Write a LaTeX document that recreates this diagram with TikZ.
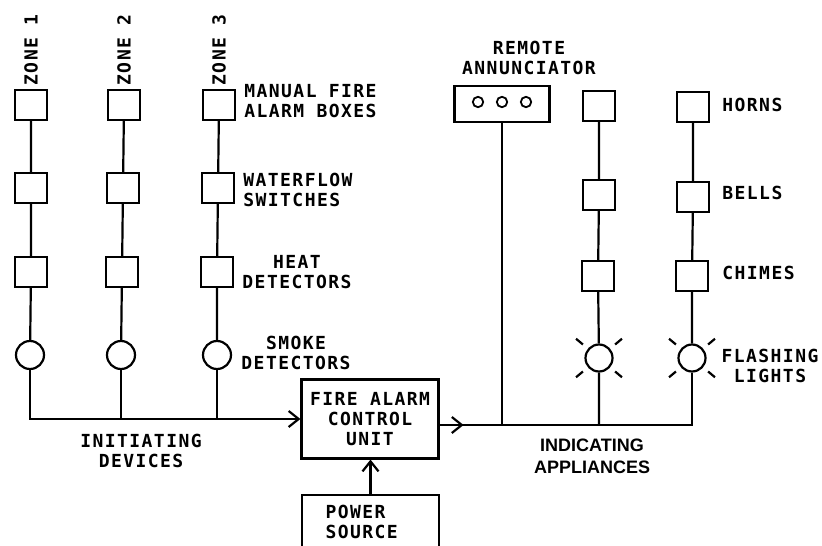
\documentclass[tikz,border=0pt]{standalone}
\usepackage{fontspec}
\usepackage{tikz}
\usetikzlibrary{arrows.meta,calc,positioning}
\newfontfamily\apfont{Liberation Sans}
\newfontfamily\plotfont[LetterSpace=8]{DejaVu Sans Mono}
\tikzset{
  wire/.style={line width=1.1pt},
  dev/.style={draw,wire,minimum width=16pt,minimum height=15pt,inner sep=0pt},
  det/.style={draw,wire,circle,minimum size=14pt,inner sep=0pt},
  lamp/.style={draw,wire,circle,minimum size=13.5pt,inner sep=0pt},
  lbl/.style={font=\plotfont\bfseries\fontsize{9}{10}\selectfont,align=left,inner sep=0pt},
}

\begin{document}
\begin{tikzpicture}[x=0.5pt,y=-0.5pt,>={Straight Barb[length=5pt,width=8pt]}]
\useasboundingbox (0,0) rectangle (822,545);
% indicating appliances label first
\node[font=\apfont\bfseries\fontsize{9}{11}\selectfont,align=center,inner sep=0pt] (lind) at (592,456) {INDICATING\\APPLIANCES};
% initiating devices, three zones
\node[dev] (m1) at (31,105) {};
\node[dev] (w1) at (31,188) {};
\node[dev] (h1) at (31,272) {};
\node[det] (s1) at (30,355) {};
\node[dev] (m2) at (124,105) {};
\node[dev] (w2) at (123,188) {};
\node[dev] (h2) at (122,272) {};
\node[det] (s2) at (121,355) {};
\node[dev] (m3) at (219,105) {};
\node[dev] (w3) at (218,188) {};
\node[dev] (h3) at (217,272) {};
\node[det] (s3) at (217,355) {};
\node[lbl,rotate=90,anchor=west] (zl1) at ([yshift=1.5pt]m1.north) {ZONE 1};
\node[lbl,rotate=90,anchor=west] (zl2) at ([yshift=1.5pt]m2.north) {ZONE 2};
\node[lbl,rotate=90,anchor=west] (zl3) at ([yshift=1.5pt]m3.north) {ZONE 3};
\node[lbl,anchor=west] (lmfa) at (244,101) {MANUAL FIRE\\ALARM BOXES};
\node[lbl,anchor=west] (lwf) at (243,190) {WATERFLOW\\SWITCHES};
\node[lbl,align=center] (lhd) at (297,272) {HEAT\\DETECTORS};
\node[lbl,align=center] (lsd) at (296,353) {SMOKE\\DETECTORS};
\node[lbl,align=center] (lini) at (141,451) {INITIATING\\DEVICES};
\draw[wire] (m1) -- (w1) -- (h1) -- (s1);
\draw[wire] (m2) -- (w2) -- (h2) -- (s2);
\draw[wire] (m3) -- (w3) -- (h3) -- (s3);
% control unit and power
\node[draw,wire,lbl,align=center,minimum width=68.5pt,minimum height=39.5pt] (fac) at (370,419) {FIRE ALARM\\CONTROL\\UNIT};
\node[draw,wire,lbl,minimum width=68.5pt,minimum height=26.5pt,text width=45pt] (pwr) at (370.5,521.5) {POWER\\SOURCE};
\draw[wire,->] (s1) |- (fac.west);
\draw[wire] (s2) -- (s2 |- fac.west);
\draw[wire] (s3) -- (s3 |- fac.west);
\draw[wire,->] (pwr) -- (pwr |- fac.south);
% indicating appliances
\node[draw,wire,minimum width=47.5pt,minimum height=18pt] (ann) at (502,104) {};
\foreach \i in {-1,0,1} \draw[line width=0.9pt] ($(ann.center)+(\i*24,-2)$) circle (2.6pt);
\node[lbl,align=center] (lrem) at (529,58) {REMOTE\\ANNUNCIATOR};
\node[dev] (hA) at (599,106) {};
\node[dev] (bA) at (599,195) {};
\node[dev] (cA) at (598,276) {};
\node[lamp] (fA) at (599,358) {};
\node[dev] (hB) at (693,107) {};
\node[dev] (bB) at (693,197) {};
\node[dev] (cB) at (692,276) {};
\node[lamp] (fB) at (692,358) {};
\foreach \n in {fA,fB}{
  \foreach \a in {40,140,220,320} \draw[wire] (\n) ++(\a:10.5pt) -- ++(\a:4.5pt);
}
\node[lbl,anchor=west] (lhorn) at (722,105) {HORNS};
\node[lbl,anchor=west] (lbell) at (722,193) {BELLS};
\node[lbl,anchor=west] (lchime) at (722,273) {CHIMES};
\node[lbl,align=center] (lflash) at (770,366) {FLASHING\\LIGHTS};
\coordinate (out) at ([yshift=-3pt]fac.east);
\draw[wire,->] (out) -- ++(24,0);
\draw[wire] (out) -| (fB);
\draw[wire] (ann) -- (ann |- out);
\draw[wire] (hA) -- (bA) -- (cA) -- (fA) -- (fA |- out);
\draw[wire] (hB) -- (bB) -- (cB) -- (fB);
\end{tikzpicture}
\end{document}
